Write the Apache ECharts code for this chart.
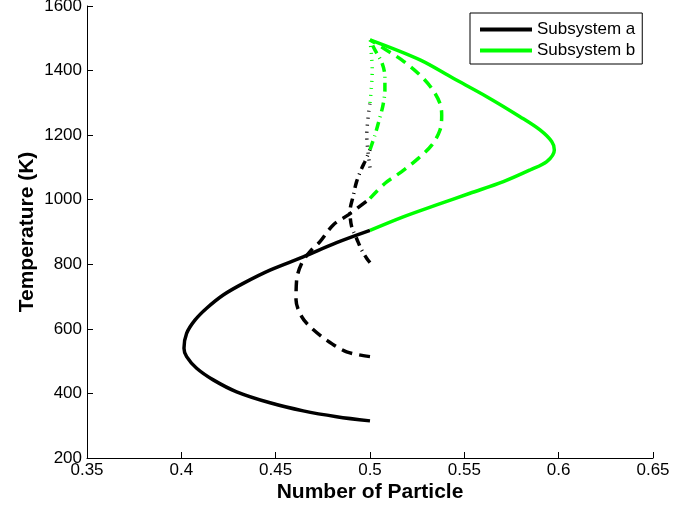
<!DOCTYPE html>
<html>
<head>
<meta charset="utf-8">
<script src="https://cdn.jsdelivr.net/npm/echarts@6/dist/echarts.min.js"></script>
<style>
	html, body { margin: 0; padding: 0; background: #fff; }
	#main { width: 695px; height: 506px; }
</style>
</head>
<body>
<div id="main"></div>
<script>
	// axis ticks
	var xTicks = [0.35, 0.4, 0.45, 0.5, 0.55, 0.6, 0.65]
	var yTicks = [200, 400, 600, 800, 1000, 1200, 1400, 1600]

	// [number of particle, temperature]
	// subsystem a = black, subsystem b = green
	var solidA = [[0.5,315],[0.4823,328],[0.4646,346],[0.447,371],[0.4293,405],[0.4169,442],[0.4081,478],[0.4028,514],[0.4014,540],[0.4028,586],[0.4072,627],[0.4134,664],[0.4222,705],[0.4328,741],[0.447,782],[0.4646,823],[0.4823,867],[0.5,905]]
	var solidB = [[0.5,905],[0.5176,947],[0.5353,984],[0.553,1020],[0.5707,1056],[0.5848,1092],[0.5937,1118],[0.5977,1154],[0.5963,1180],[0.5901,1216],[0.5795,1257],[0.5619,1319],[0.5441,1376],[0.5265,1433],[0.5,1495]]
	var dashedA = [[0.5,514],[0.4876,529],[0.477,565],[0.4682,607],[0.4638,638],[0.4608,689],[0.4611,751],[0.4638,803],[0.4682,839],[0.4735,870],[0.4805,922],[0.4885,953],[0.5,1004]]
	var dashedB = [[0.5,1004],[0.508,1051],[0.5168,1087],[0.5256,1128],[0.5327,1169],[0.5371,1216],[0.538,1262],[0.5371,1298],[0.5327,1345],[0.5256,1391],[0.5168,1433],[0.508,1466],[0.5,1495]]
	var dashDotA = [[0.5,805],[0.4983,818],[0.4956,844],[0.4929,880],[0.4903,916],[0.4894,963],[0.4912,1014],[0.4929,1056],[0.4956,1097],[0.4973,1118],[0.5,1155]]
	var dashDotB = [[0.5,1155],[0.5026,1200],[0.5053,1256],[0.5069,1293],[0.5079,1340],[0.5079,1380],[0.5064,1423],[0.5026,1464],[0.5,1495]]
	var dottedA = [[0.5,1100],[0.4983,1200],[0.5,1300]]
	var dottedB = [[0.5,1300],[0.5012,1400],[0.5,1495]]

	var font = "'Liberation Sans', Arial, sans-serif"

	function curve(name, data, color, type) {
		return {
			name: name,
			type: 'line',
			data: data,
			symbol: 'none',
			smooth: 0.33,
			itemStyle: { color: color },
			lineStyle: { color: color, width: 3.5, type: type, cap: 'butt' }
		}
	}

	var myChart = echarts.init(document.getElementById('main'))
	myChart.setOption({
		animation: false,
		backgroundColor: '#fff',
		grid: { left: 87, right: 42, top: 6, bottom: 48, outerBoundsMode: 'none' },
		legend: {
			data: ['Subsystem a', 'Subsystem b'],
			orient: 'vertical',
			left: 470,
			top: 13,
			padding: [8, 7, 5, 10],
			icon: 'rect',
			itemWidth: 52,
			itemHeight: 4,
			itemGap: 4,
			borderColor: '#000',
			borderWidth: 1,
			borderRadius: 0,
			textStyle: { fontFamily: font, fontSize: 17, color: '#000', lineHeight: 17 }
		},
		xAxis: {
			type: 'value',
			min: xTicks[0],
			max: xTicks[xTicks.length - 1],
			interval: 0.05,
			name: 'Number of Particle',
			nameLocation: 'middle',
			nameGap: 24,
			nameMoveOverlap: false,
			nameTextStyle: { fontFamily: font, fontSize: 21, fontWeight: 'bold', color: '#000' },
			axisLine: { show: true, onZero: false, lineStyle: { color: '#000', width: 1 } },
			axisTick: { show: true, inside: true, length: 6, lineStyle: { color: '#000' } },
			axisLabel: { fontFamily: font, fontSize: 17, color: '#000', margin: 4 },
			splitLine: { show: false }
		},
		yAxis: {
			type: 'value',
			min: yTicks[0],
			max: yTicks[yTicks.length - 1],
			interval: 200,
			name: 'Temperature (K)',
			nameLocation: 'middle',
			nameGap: 49,
			nameMoveOverlap: false,
			nameTextStyle: { fontFamily: font, fontSize: 21, fontWeight: 'bold', color: '#000' },
			axisLine: { show: true, onZero: false, lineStyle: { color: '#000', width: 1 } },
			axisTick: { show: true, inside: true, length: 6, lineStyle: { color: '#000' } },
			axisLabel: { fontFamily: font, fontSize: 17, color: '#000', margin: 5,
				formatter: function (v) { return String(v) } },
			splitLine: { show: false }
		},
		series: [
			curve('Subsystem a', solidA, '#000', 'solid'),
			curve('a dashed', dashedA, '#000', [11, 7]),
			curve('a dashdot', dashDotA, '#000', [9, 5, 1, 5]),
			curve('a dotted', dottedA, '#000', [1, 6]),
			curve('Subsystem b', solidB, '#00ff00', 'solid'),
			curve('b dashed', dashedB, '#00ff00', [11, 7]),
			curve('b dashdot', dashDotB, '#00ff00', [9, 5, 1, 5]),
			curve('b dotted', dottedB, '#00ff00', [1, 6])
		]
	})
</script>
</body>
</html>
